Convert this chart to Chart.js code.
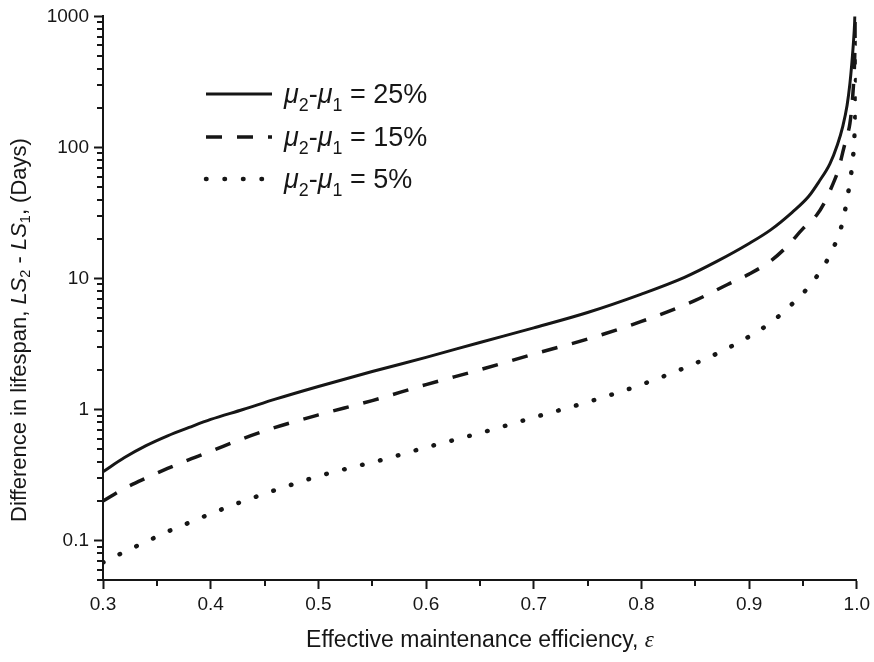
<!DOCTYPE html>
<html><head><meta charset="utf-8">
<script src="https://cdn.jsdelivr.net/npm/chart.js@4.4.1/dist/chart.umd.min.js"></script>
<style>html,body{margin:0;padding:0;background:#fff}#wrap{width:874px;height:662px}</style>
</head><body><div id="wrap"><canvas id="c" width="874" height="662"></canvas></div>
<script>
// ---- data ----
const legendPercents = ['25%', '15%', '5%'];

const eps25 = [0.30,0.32,0.34,0.36,0.38,0.40,0.43,0.46,0.50,0.55,0.60,0.65,0.70,0.75,0.80,0.84,0.87,0.90,0.92,0.94,0.955,0.965,0.975,0.982,0.987,0.991,0.9936,0.9955,0.997,0.998,0.9986];
const ls25  = [0.335,0.43,0.53,0.63,0.73,0.84,1.0,1.2,1.5,1.95,2.5,3.25,4.2,5.5,7.6,10.2,13.5,18.5,23.5,32,42,55,75,105,145,210,307,450,650,900,1300];

const eps15 = [0.30,0.32,0.34,0.36,0.38,0.40,0.43,0.46,0.50,0.55,0.60,0.65,0.70,0.75,0.80,0.85,0.88,0.90,0.92,0.935,0.95,0.9626,0.97,0.978,0.983,0.987,0.9905,0.9936,0.9964,0.998,0.999,0.9995];
const ls15  = [0.20,0.25,0.30,0.355,0.415,0.48,0.60,0.73,0.91,1.17,1.55,2.01,2.65,3.45,4.7,6.8,9.0,10.8,13.6,17.5,24,30.4,38,53,68,92,120,152,258,450,900,1500];

const eps5 = [0.30,0.32,0.34,0.36,0.38,0.40,0.42,0.44,0.46,0.48,0.50,0.53,0.56,0.60,0.63,0.66,0.70,0.75,0.80,0.85,0.885,0.92,0.936,0.953,0.966,0.976,0.983,0.988,0.991,0.994,0.996,0.9975,0.9985,0.999,0.9994,0.9997];
const ls5  = [0.068,0.082,0.098,0.117,0.137,0.16,0.186,0.213,0.243,0.275,0.31,0.36,0.415,0.514,0.597,0.697,0.87,1.14,1.55,2.25,3.08,4.6,5.96,8.2,11.3,15.6,21.4,29.5,41,56,78,107,170,282,400,800];

const xTickValues = [0.3,0.35,0.4,0.45,0.5,0.55,0.6,0.65,0.7,0.75,0.8,0.85,0.9,0.95,1.0];
const xTickLabels = ['0.3','','0.4','','0.5','','0.6','','0.7','','0.8','','0.9','','1.0'];

const yTickValues = [0.05,0.06,0.07,0.08,0.09,0.1,0.2,0.3,0.4,0.5,0.6,0.7,0.8,0.9,1,2,3,4,5,6,7,8,9,10,20,30,40,50,60,70,80,90,100,200,300,400,500,600,700,800,900,1000];
const yTickLabels = yTickValues.map(v => [0.1,1,10,100,1000].includes(v) ? String(v) : '');

// ---- styling ----
const INK = '#161616';
const SANS = '"Liberation Sans", Arial, Helvetica, sans-serif';
const SERIF = '"Liberation Serif", "Times New Roman", serif';

const pts = (xs, ys) => xs.map((x, i) => ({x: x, y: ys[i]}));

const styles = [
  {borderWidth: 3, borderDash: [], borderCapStyle: 'butt'},
  {borderWidth: 3.5, borderDash: [16, 15], borderCapStyle: 'butt'},
  {borderWidth: 4.5, borderDash: [0.5, 18], borderCapStyle: 'round'}
];

function drawRich(ctx, segs, x, y, size) {
  let cx = x;
  segs.forEach(s => {
    const sz = s.sub ? size * 0.66 : size;
    const fam = s.serif ? SERIF : SANS;
    ctx.font = (s.italic ? 'italic ' : '') + sz + 'px ' + fam;
    const dy = s.sub ? size * 0.28 : 0;
    ctx.fillText(s.t, cx, y + dy);
    cx += ctx.measureText(s.t).width;
  });
  return cx - x;
}
function richWidth(ctx, segs, size) {
  let w = 0;
  segs.forEach(s => {
    const sz = s.sub ? size * 0.66 : size;
    ctx.font = (s.italic ? 'italic ' : '') + sz + 'px ' + (s.serif ? SERIF : SANS);
    w += ctx.measureText(s.t).width;
  });
  return w;
}

const decor = {
  id: 'decor',
  afterDraw(chart) {
    const ctx = chart.ctx, a = chart.chartArea;
    const xs = chart.scales.x, ys = chart.scales.y;
    ctx.save();
    ctx.strokeStyle = INK; ctx.lineWidth = 2; ctx.setLineDash([]);
    xTickValues.forEach((v, i) => {
      if (xTickLabels[i] === '') {
        const px = Math.round(xs.getPixelForValue(v));
        ctx.beginPath(); ctx.moveTo(px, a.bottom); ctx.lineTo(px, a.bottom + 6); ctx.stroke();
      }
    });
    yTickValues.forEach((v, i) => {
      if (yTickLabels[i] === '') {
        const py = Math.round(ys.getPixelForValue(v));
        ctx.beginPath(); ctx.moveTo(a.left, py); ctx.lineTo(a.left - 6, py); ctx.stroke();
      }
    });
    // legend
    const rowY = [94, 137, 179];
    chart.data.datasets.forEach((ds, i) => {
      ctx.save();
      ctx.strokeStyle = INK;
      ctx.lineWidth = ds.borderWidth;
      ctx.setLineDash(ds.borderDash);
      ctx.lineCap = ds.borderCapStyle;
      ctx.beginPath(); ctx.moveTo(206, rowY[i]); ctx.lineTo(272, rowY[i]); ctx.stroke();
      ctx.restore();
      ctx.fillStyle = INK; ctx.textBaseline = 'alphabetic'; ctx.textAlign = 'left';
      drawRich(ctx, [
        {t: 'μ', italic: true}, {t: '2', sub: true}, {t: '-'},
        {t: 'μ', italic: true}, {t: '1', sub: true}, {t: ' = ' + legendPercents[i]}
      ], 284, rowY[i] + 9, 27);
    });
    // x title
    ctx.fillStyle = INK; ctx.textBaseline = 'middle'; ctx.textAlign = 'left';
    const xSegs = [{t: 'Effective maintenance efficiency, '}, {t: 'ε', italic: true, serif: true}];
    const xw = richWidth(ctx, xSegs, 23);
    drawRich(ctx, xSegs, 480 - xw / 2, 641, 23);
    // y title
    ctx.save();
    ctx.translate(20, 330);
    ctx.rotate(-Math.PI / 2);
    const ySegs = [{t: 'Difference in lifespan, '}, {t: 'LS', italic: true}, {t: '2', sub: true}, {t: ' - '},
                   {t: 'LS', italic: true}, {t: '1', sub: true}, {t: ', (Days)'}];
    const yw = richWidth(ctx, ySegs, 22);
    drawRich(ctx, ySegs, -yw / 2, 0, 22);
    ctx.restore();
    ctx.restore();
  }
};

new Chart(document.getElementById('c'), {
  type: 'line',
  data: {
    datasets: [
      Object.assign({label: legendPercents[0], data: pts(eps25, ls25)}, styles[0]),
      Object.assign({label: legendPercents[1], data: pts(eps15, ls15)}, styles[1]),
      Object.assign({label: legendPercents[2], data: pts(eps5, ls5)}, styles[2])
    ].map(d => Object.assign(d, {borderColor: INK, pointRadius: 0, fill: false, cubicInterpolationMode: 'monotone'}))
  },
  options: {
    responsive: false,
    devicePixelRatio: 1,
    animation: false,
    layout: {padding: {left: 0, right: 17, top: 15, bottom: 0}},
    plugins: {legend: {display: false}, tooltip: {enabled: false}},
    scales: {
      x: {
        type: 'linear', min: 0.3, max: 1.0,
        afterBuildTicks: s => { s.ticks = xTickValues.map(v => ({value: v})); },
        afterFit: s => { s.height = 82; },
        ticks: {callback: (v, i) => xTickLabels[i], autoSkip: false, maxRotation: 0, padding: 4,
                color: INK, font: {family: SANS, size: 19}},
        grid: {drawOnChartArea: false, drawTicks: true, tickLength: 9, tickWidth: 2,
               tickColor: c => xTickLabels[c.index] ? INK : 'rgba(0,0,0,0)'},
        border: {display: true, color: INK, width: 2}
      },
      y: {
        type: 'logarithmic', min: 0.05, max: 1000,
        afterBuildTicks: s => { s.ticks = yTickValues.map(v => ({value: v})); },
        afterFit: s => { s.width = 103; },
        ticks: {callback: (v, i) => yTickLabels[i], autoSkip: false, padding: 5,
                color: INK, font: {family: SANS, size: 19}},
        grid: {drawOnChartArea: false, drawTicks: true, tickLength: 9, tickWidth: 2,
               tickColor: c => yTickLabels[c.index] ? INK : 'rgba(0,0,0,0)'},
        border: {display: true, color: INK, width: 2}
      }
    }
  },
  plugins: [decor]
});
</script>
</body></html>
